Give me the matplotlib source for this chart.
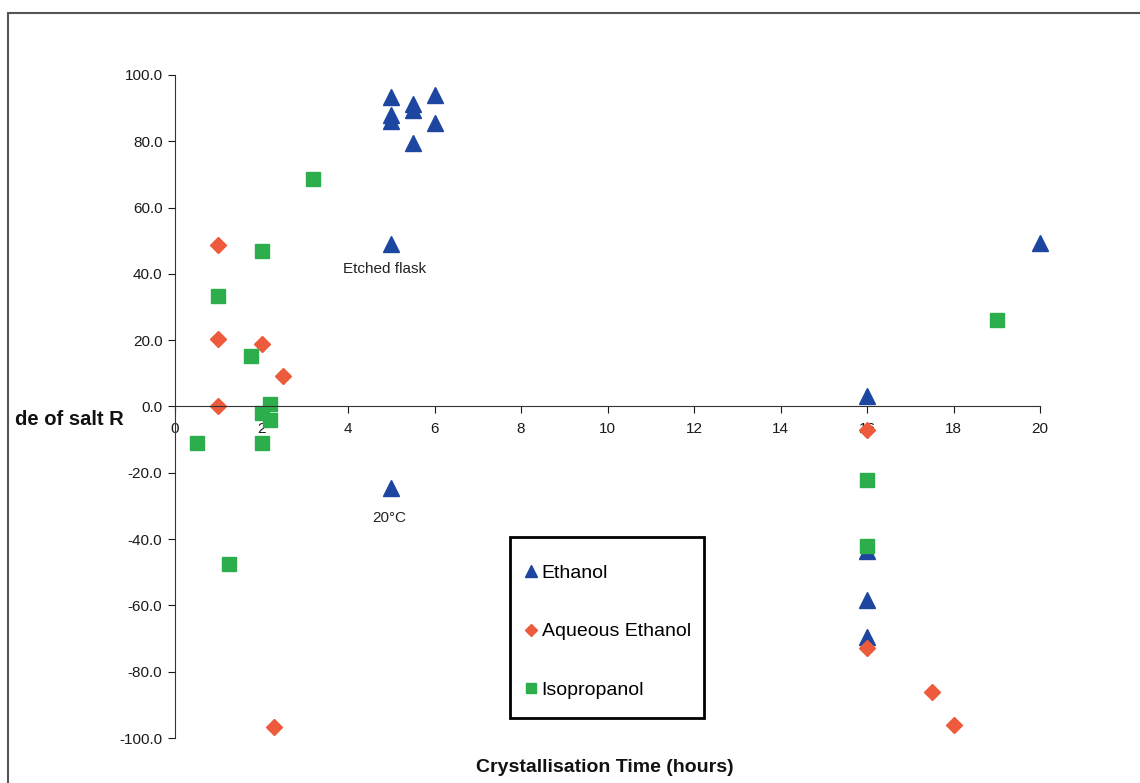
import matplotlib
matplotlib.use("Agg")
import matplotlib.pyplot as plt
from matplotlib.patches import Rectangle

plt.rcParams["font.family"] = ["Liberation Sans", "DejaVu Sans"]

# Ethanol
eth_x = [5, 5, 5, 5.5, 5.5, 5.5, 6, 6, 5, 5, 16, 16, 16, 16, 20]
eth_y = [93.5, 88.0, 86.2, 91.2, 89.4, 79.6, 94.0, 85.4, 48.9, -24.6, 3.2, -43.5, -58.5, -69.5, 49.3]
# Aqueous Ethanol
aq_x = [1, 1, 2, 2.5, 1, 2.3, 16, 16, 17.5, 18]
aq_y = [48.7, 20.4, 19.0, 9.3, 0.0, -96.8, -7.1, -73.0, -86.0, -96.2]
# Isopropanol
iso_x = [3.2, 2, 1, 1.75, 2.2, 2, 2.2, 0.5, 2, 1.25, 16, 16, 19]
iso_y = [68.6, 47.0, 33.4, 15.2, 0.7, -2.0, -4.0, -11.1, -11.1, -47.5, -22.2, -42.0, 26.1]

x_ticks = [0, 2, 4, 6, 8, 10, 12, 14, 16, 18, 20]
y_ticks = [-100, -80, -60, -40, -20, 0, 20, 40, 60, 80, 100]

W, H = 1140, 783
fig = plt.figure(figsize=(W / 100, H / 100), dpi=100)
fig.patch.set_facecolor("white")
ax = fig.add_axes([175 / W, 1 - 738 / H, 865 / W, 663 / H])

c_eth = "#1C46A0"
c_aq = "#EE5A3C"
c_iso = "#2CAE4C"

ax.plot(eth_x, eth_y, linestyle="none", marker="^", ms=11, color=c_eth, label="Ethanol", clip_on=False)
ax.plot(aq_x, aq_y, linestyle="none", marker="D", ms=8, color=c_aq, label="Aqueous Ethanol", clip_on=False)
ax.plot(iso_x, iso_y, linestyle="none", marker="s", ms=9.5, color=c_iso, label="Isopropanol", clip_on=False)

ax.set_xlim(0, 20)
ax.set_ylim(-100, 100)
ax.set_xticks(x_ticks)
ax.set_yticks(y_ticks)
ax.set_yticklabels([f"{v:.1f}" for v in y_ticks])

ax.spines["top"].set_visible(False)
ax.spines["right"].set_visible(False)
ax.spines["bottom"].set_position(("data", 0))
ax.spines["left"].set_color("#333333")
ax.spines["bottom"].set_color("#333333")
ax.tick_params(axis="y", direction="out", length=5, labelsize=11, colors="#1a1a1a", pad=4)
ax.tick_params(axis="x", direction="out", length=5, labelsize=11, colors="#1a1a1a", pad=6)

ax.text(-51 / 865, -4, "de of salt R", transform=ax.get_yaxis_transform(), ha="right", va="center",
        fontsize=14.5, fontweight="bold", color="#111111")
ax.text(605 / W, 1 - 768 / H, "Crystallisation Time (hours)", transform=fig.transFigure, ha="center",
        va="center", fontsize=14, fontweight="bold", color="#111111")

ax.text(4.85, 41.5, "Etched flask", ha="center", va="center", fontsize=11, color="#222222")
ax.text(4.95, -33.7, "20°C", ha="center", va="center", fontsize=11, color="#222222")

leg = ax.legend(loc="upper left", bbox_to_anchor=(525 / W, 1 - 564 / H), bbox_transform=fig.transFigure,
                fontsize=14, frameon=False, handlelength=0.6, handletextpad=0.25,
                labelspacing=2.12, borderpad=0, borderaxespad=0, markerscale=0.75)
fig.patches.append(Rectangle((510 / W, 1 - 718 / H), 194 / W, 181 / H, transform=fig.transFigure,
                             fill=False, edgecolor="black", linewidth=2))

fig.patches.append(Rectangle((8 / W, -0.02), 1.05, 1 - 13 / H + 0.02, transform=fig.transFigure,
                             fill=False, edgecolor="#555555", linewidth=1.5))

fig.savefig("out.png", dpi=100)
